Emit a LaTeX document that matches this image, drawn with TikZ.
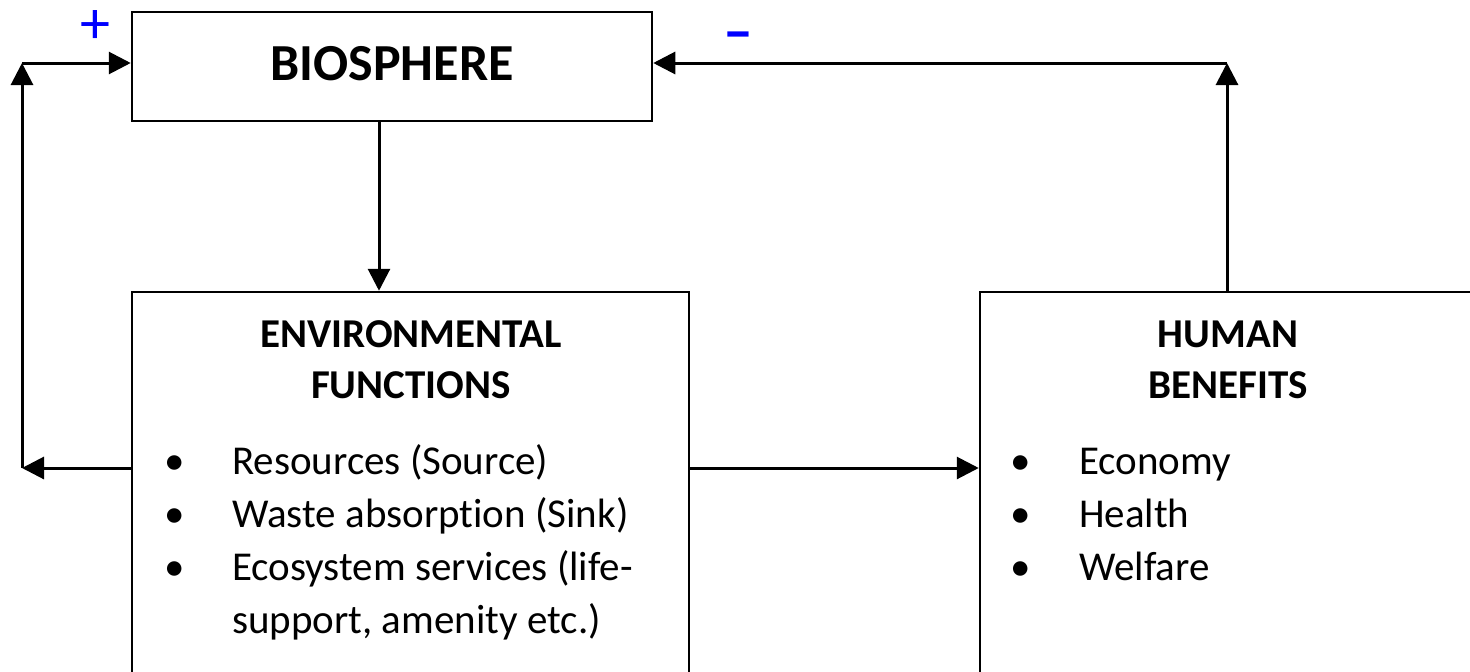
\documentclass[tikz,border=0pt]{standalone}
\usepackage{fontspec}
\setmainfont{Carlito}[Ligatures=NoCommon]
\usetikzlibrary{arrows.meta}
\tikzstyle{process} = [rectangle, draw=black, line width=2.5pt, inner sep=0pt]
\tikzstyle{arrow} = [line width=3pt, -{Triangle[length=22pt,width=22pt]}]
\tikzstyle{heading} = [font=\fontsize{41}{51}\selectfont\bfseries, inner sep=0pt, anchor=base]
\tikzstyle{items} = [font=\fontsize{41}{53}\selectfont, inner sep=0pt, anchor=base west]
\tikzstyle{sign} = [text=blue, inner sep=0pt]
\newcommand{\bul}[1]{\makebox[#1]{\textbullet}}

\begin{document}
\begin{tikzpicture}[x=1pt, y=-1pt]
                        \useasboundingbox (0,0) rectangle (1470,672);
                        \clip (0,0) rectangle (1470,672);

                        \node (1) [process, minimum width=520pt, minimum height=109pt, text depth=7pt, font=\fontsize{52}{60}\selectfont\bfseries] at (392,66.5) {BIOSPHERE};
                        \node (2) [process, minimum width=557pt, minimum height=428pt] at (410.5,506) {};
                        \node (3) [process, minimum width=500pt, minimum height=428pt] at (1230,506) {};

                        \node (4) [heading] at (411,347) {\begin{tabular}[t]{c}ENVIRONMENTAL\\FUNCTIONS\end{tabular}};
                        \node (5) [heading] at (1228,347) {\begin{tabular}[t]{c}HUMAN\\BENEFITS\end{tabular}};

                        \node (6) [items] at (118,474) {\begin{tabular}[t]{@{}l@{}l@{}}
                            \bul{114pt} & Resources (Source)\\
                            \bul{114pt} & Waste absorption (Sink)\\
                            \bul{114pt} & Ecosystem services (life-\\
                                        & support, amenity etc.)
                        \end{tabular}};
                        \node (7) [items] at (961,474) {\begin{tabular}[t]{@{}l@{}l@{}}
                            \bul{118pt} & Economy\\
                            \bul{118pt} & Health\\
                            \bul{118pt} & Welfare
                        \end{tabular}};

                        \node (8) [sign, font=\fontsize{60}{60}\selectfont] at (95,27) {+};
                        \node (9) [sign, font=\fontsize{60}{60}\selectfont\bfseries] at (738,42) {--};

                        \coordinate (a1) at (22,468);
                        \coordinate (a2) at (22,63);
                        \coordinate (a3) at (379,200);
                        \coordinate (a4) at (1227,63);

                        \draw [arrow] (1.south -| a3) -- (2.north -| a3);
                        \draw [arrow] (2.west |- a1) -- (a1);
                        \draw [arrow] (a1) -- (a2);
                        \draw [arrow] (a2) -- (1.west |- a2);
                        \draw [arrow] (2.east |- a1) -- (3.west |- a1);
                        \draw [arrow] (3.north -| a4) -- (a4);
                        \draw [arrow] (a4) -- (1.east |- a4);
                    \end{tikzpicture}
\end{document}
